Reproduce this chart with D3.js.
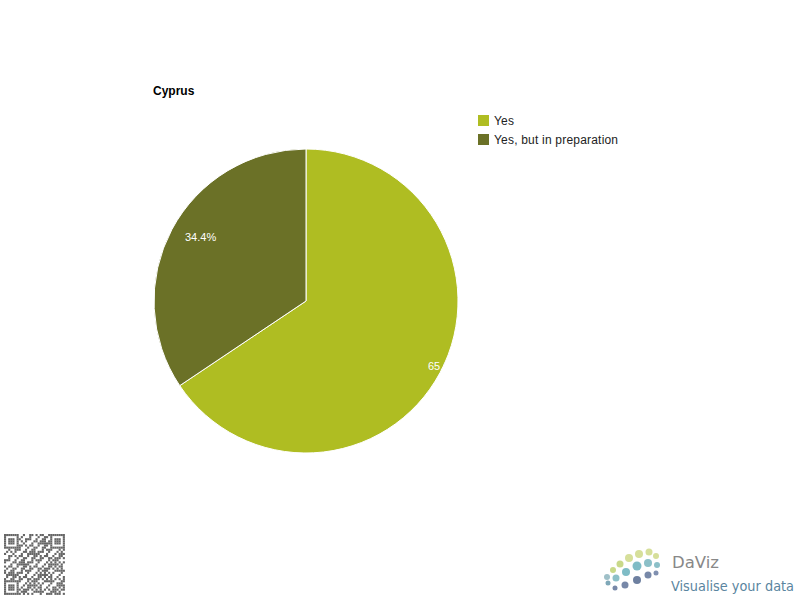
<!DOCTYPE html>
<html><head><meta charset="utf-8">
<script src="https://cdn.jsdelivr.net/npm/d3@7"></script>
<style>body{margin:0;background:#fff}svg{display:block}</style>
</head><body>
<svg id="c" width="800" height="600"></svg>
<script>
const title = "Cyprus";
const categories = ["Yes", "Yes, but in preparation"];
const values = [65.6, 34.4];
const colors = ["#afbd22", "#6b7127"];

const svg = d3.select("#c");
const font = "Liberation Sans, Arial, sans-serif";
const cx = 306, cy = 301, R = 152;

svg.append("text").attr("x", 153).attr("y", 95).attr("font-family", font)
  .attr("font-size", 12).attr("font-weight", "bold").text(title);

const pie = d3.pie().sort(null).value(d => d)(values);
const arc = d3.arc().innerRadius(0).outerRadius(R);
const g = svg.append("g").attr("transform", `translate(${cx},${cy})`);
const defs = svg.append("defs");
pie.forEach((p, i) => {
  defs.append("clipPath").attr("id", "clip" + i).append("path").attr("d", arc(p));
});
g.selectAll("path.slice").data(pie).join("path").attr("class", "slice")
  .attr("d", arc).attr("fill", (d, i) => colors[i])
  .attr("stroke", "#fff").attr("stroke-width", 1);

const total = d3.sum(values);
g.selectAll("text.lbl").data(pie).join("text").attr("class", "lbl")
  .attr("clip-path", (d, i) => `url(#clip${i})`)
  .attr("x", (d, i) => i === 0 ? 122 : -121)
  .attr("y", (d, i) => i === 0 ? 69 : -60)
  .attr("font-family", font).attr("font-size", 11).attr("fill", "#fff")
  .text(d => (d.value / total * 100).toFixed(1) + "%");

const leg = svg.append("g");
categories.forEach((c, i) => {
  leg.append("rect").attr("x", 478).attr("y", 115 + i * 19).attr("width", 11).attr("height", 11).attr("fill", colors[i]);
  leg.append("text").attr("x", 494).attr("y", 125 + i * 19).attr("font-family", font)
    .attr("font-size", 12).attr("letter-spacing", 0.2).attr("fill", "#222").text(c);
});

// QR-like decoration
const qr = svg.append("g").attr("transform", "translate(4,534)");
const n = 29, s = 2.1;
for (let r = 0; r < n; r++) for (let c = 0; c < n; c++) {
  const finder = (r < 7 && c < 7) || (r < 7 && c >= n - 7) || (r >= n - 7 && c < 7);
  let on;
  if (finder) {
    const rr = r >= n - 7 ? r - (n - 7) : r, cc = c >= n - 7 ? c - (n - 7) : c;
    on = rr === 0 || rr === 6 || cc === 0 || cc === 6 || (rr >= 2 && rr <= 4 && cc >= 2 && cc <= 4);
  } else {
    on = ((r * 7 + c * 13 + (r * c) % 5) % 3) === 0 || ((r ^ c) % 4 === 1);
  }
  if (on) qr.append("rect").attr("x", c * s).attr("y", r * s).attr("width", s).attr("height", s).attr("fill", "#666");
}

// DaViz logo
const logo = svg.append("g");
const dots = [[607,577,3,"#9fc0c8"],[613,570,3,"#c9d98a"],[620,564,3.5,"#c9d98a"],[629,558,4,"#d6df9a"],[639,554,4,"#d6df9a"],[649,552,3.5,"#d6df9a"],[656,556,3,"#d6df9a"],
  [608,583,2.5,"#7fa8b8"],[616,578,3.5,"#8cc0c8"],[626,572,4,"#7fbcc6"],[637,566,4.5,"#7fbcc6"],[648,563,4,"#8cc0c8"],[657,565,3,"#8cc0c8"],
  [615,588,2.5,"#7788a8"],[625,585,3.5,"#7788a8"],[637,580,4,"#6e80a0"],[648,575,3.5,"#7788a8"],[656,573,2.5,"#8090b0"]];
dots.forEach(d => logo.append("circle").attr("cx", d[0]).attr("cy", d[1]).attr("r", d[2]).attr("fill", d[3]));
logo.append("text").attr("x", 672).attr("y", 568).attr("font-family", "DejaVu Sans, sans-serif").attr("font-size", 16)
  .attr("textLength", 47).attr("lengthAdjust", "spacingAndGlyphs").attr("fill", "#888").text("DaViz");
logo.append("text").attr("x", 671).attr("y", 591).attr("font-family", "DejaVu Sans, sans-serif").attr("font-size", 13.5)
  .attr("textLength", 123).attr("lengthAdjust", "spacingAndGlyphs").attr("fill", "#5a85a0").text("Visualise your data");
</script>
</body></html>
